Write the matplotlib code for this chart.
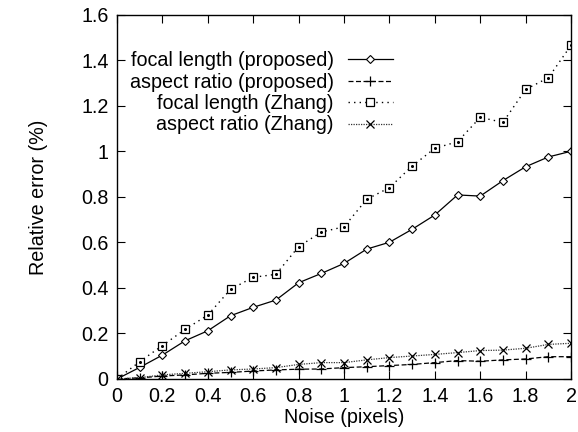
import numpy as np
import matplotlib
matplotlib.use("Agg")
import matplotlib.pyplot as plt
from matplotlib.ticker import MultipleLocator, FuncFormatter

# ---------------------------
# DATA
# ---------------------------
noise = [0.0, 0.1, 0.2, 0.3, 0.4, 0.5, 0.6, 0.7, 0.8, 0.9, 1.0,
         1.1, 1.2, 1.3, 1.4, 1.5, 1.6, 1.7, 1.8, 1.9, 2.0]

focal_proposed = [0.0, 0.051, 0.105, 0.168, 0.212, 0.278, 0.315, 0.347, 0.423, 0.464, 0.508,
                  0.571, 0.601, 0.658, 0.721, 0.809, 0.804, 0.872, 0.933, 0.976, 1.001]
aspect_proposed = [0.0, 0.005, 0.013, 0.018, 0.025, 0.029, 0.035, 0.040, 0.043, 0.044, 0.050,
                   0.054, 0.059, 0.064, 0.072, 0.081, 0.078, 0.084, 0.088, 0.098, 0.098]
focal_zhang = [0.0, 0.076, 0.147, 0.218, 0.281, 0.394, 0.447, 0.460, 0.582, 0.646, 0.669,
               0.790, 0.841, 0.936, 1.014, 1.043, 1.150, 1.128, 1.273, 1.324, 1.467]
aspect_zhang = [0.0, 0.006, 0.018, 0.025, 0.032, 0.040, 0.044, 0.050, 0.064, 0.072, 0.072,
                0.084, 0.094, 0.101, 0.108, 0.116, 0.125, 0.127, 0.135, 0.152, 0.157]

labels = ["focal length (proposed)", "aspect ratio (proposed)",
          "focal length (Zhang)", "aspect ratio (Zhang)"]

plt.rcParams['font.family'] = ['Liberation Sans', 'DejaVu Sans']
plt.rcParams['font.size'] = 14.2

fig = plt.figure(figsize=(5.78, 4.32), dpi=100)
ax = fig.add_axes([0.2024, 0.1227, 0.7856, 0.8426])

ax.plot(noise, focal_proposed, color='black', lw=0.9, ls='-',
        marker='D', ms=3.6, mfc='white', mec='black', mew=0.8, label=labels[0])
ax.plot(noise, aspect_proposed, color='black', lw=0.9, ls=(0, (4, 2)),
        marker='+', ms=7, mew=0.9, label=labels[1])
ax.plot(noise, focal_zhang, color='black', lw=1.0, ls=(0, (1, 3)),
        marker='s', ms=5.5, mfc='white', mec='black', mew=0.9, label=labels[2])
ax.plot(noise, aspect_zhang, color='#333333', lw=0.9, ls=(0, (1, 1)),
        marker='x', ms=5.5, mew=0.9, mec='black', label=labels[3])
# centre dots of the hollow squares
ax.plot(noise, focal_zhang, ls='none', marker='o', ms=1.2, color='black')

ax.set_xlim(0, 2)
ax.set_ylim(0, 1.6)
ax.xaxis.set_major_locator(MultipleLocator(0.2))
ax.yaxis.set_major_locator(MultipleLocator(0.2))
fmt = FuncFormatter(lambda v, p: "%g" % round(v, 2))
ax.xaxis.set_major_formatter(fmt)
ax.yaxis.set_major_formatter(fmt)
ax.tick_params(direction='in', top=True, right=True, length=6, width=0.8, pad=6)
for s in ax.spines.values():
    s.set_linewidth(1.0)

ax.set_xlabel("Noise (pixels)", labelpad=1)
ax.set_ylabel("Relative error (%)", labelpad=24)

ax.legend(loc='upper right', bbox_to_anchor=(0.608, 0.90), markerfirst=False,
          frameon=False, handlelength=2.3, handletextpad=0.7,
          labelspacing=0.12, borderaxespad=0.0, borderpad=0.0)

fig.savefig("out.png", dpi=100)
